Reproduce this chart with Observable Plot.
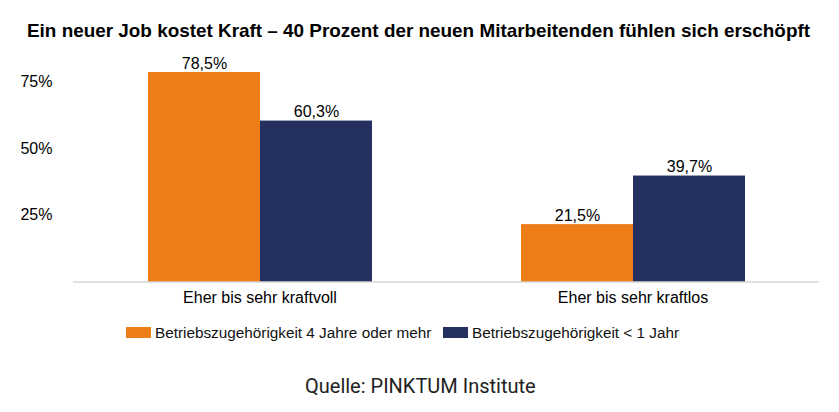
<!DOCTYPE html>
<html><head><meta charset="utf-8">
<script src="https://cdn.jsdelivr.net/npm/d3@7"></script>
<script src="https://cdn.jsdelivr.net/npm/@observablehq/plot@0.6"></script>
<style>
body{margin:0;background:#fff;width:839px;height:412px;position:relative;overflow:hidden;font-family:"Liberation Sans",Arial,sans-serif;}
.abs{position:absolute;line-height:1;white-space:nowrap;}
#title{left:27px;top:21px;font-weight:bold;font-size:19px;transform-origin:0 0;color:#000;}
#chart{position:absolute;left:0;top:45px;}
.sw{position:absolute;width:25px;height:11px;top:327px;}
.lg{font-size:15.3px;top:325px;color:#111;}
#caption{font-family:Roboto,sans-serif;font-size:20px;left:305px;top:376px;color:#222;}
</style></head>
<body>
<div id="title" class="abs">Ein neuer Job kostet Kraft – 40 Prozent der neuen Mitarbeitenden fühlen sich erschöpft</div>
<div id="chart"></div>
<div id="legend"></div>
<div id="caption" class="abs">Quelle: PINKTUM Institute</div>
<script>
const categories = ["Eher bis sehr kraftvoll", "Eher bis sehr kraftlos"];
const series = ["Betriebszugehörigkeit 4 Jahre oder mehr", "Betriebszugehörigkeit < 1 Jahr"];
const valuesLongTenure = [78.5, 21.5];
const valuesNewHires = [60.3, 39.7];
const yTicks = [25, 50, 75];
const colors = ["#ED7D17", "#243060"];

const rows = [];
categories.forEach((c, i) => {
  rows.push({category: c, series: series[0], value: valuesLongTenure[i]});
  rows.push({category: c, series: series[1], value: valuesNewHires[i]});
});

const fmt = v => v.toFixed(1).replace(".", ",") + "%";

const chart = Plot.plot({
  width: 839, height: 270,
  marginLeft: 73, marginRight: 20, marginTop: 23, marginBottom: 33.5,
  style: {fontSize: "16px", fontFamily: '"Liberation Sans", Arial, sans-serif', color: "#000", background: "transparent"},
  fx: {domain: categories, padding: 0, label: null, axis: "bottom", tickSize: 0, tickPadding: 10},
  x: {domain: series, axis: null, paddingInner: 0, paddingOuter: 0.665},
  y: {domain: [0, 80], axis: "left", ticks: yTicks, tickFormat: d => d + "%", tickSize: 0, tickPadding: 21, label: null},
  color: {domain: series, range: colors},
  marks: [
    Plot.barY(rows, {fx: "category", x: "series", y: "value", fill: "series"}),
    Plot.ruleY([0], {stroke: "#C0C0C0", strokeWidth: 1}),
    Plot.text(rows, {fx: "category", x: "series", y: "value", text: d => fmt(d.value), dy: -9, fill: "#000", fontSize: 16})
  ]
});
document.getElementById("chart").appendChild(chart);

// legend
const legend = document.getElementById("legend");
const swX = [126, 443];
series.forEach((s, i) => {
  const sw = document.createElement("div");
  sw.className = "sw";
  sw.style.left = swX[i] + "px";
  sw.style.background = colors[i];
  legend.appendChild(sw);
  const t = document.createElement("div");
  t.className = "abs lg";
  t.style.left = (swX[i] + 29) + "px";
  t.textContent = s;
  legend.appendChild(t);
});

// fit title width
const title = document.getElementById("title");
const w = title.getBoundingClientRect().width;
title.style.transform = `scaleX(${783 / w})`;
</script>
</body></html>
